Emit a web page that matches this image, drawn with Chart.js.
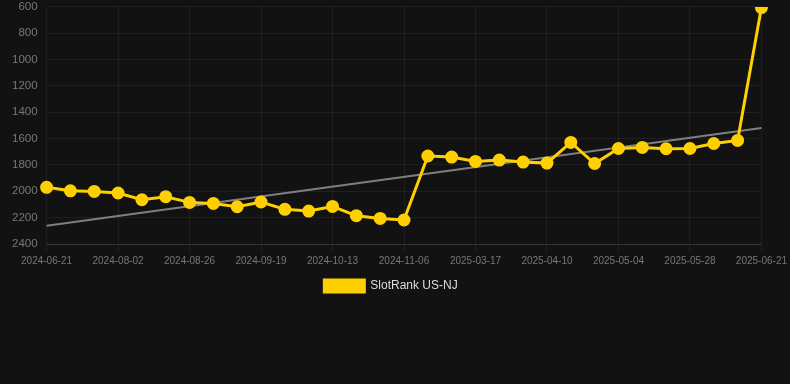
<!DOCTYPE html>
<html>
<head>
<meta charset="utf-8">
<script src="https://cdn.jsdelivr.net/npm/chart.js@4/dist/chart.umd.min.js"></script>
<style>
  html, body { margin: 0; padding: 0; background: #121212; overflow: hidden; }
  #wrap { width: 790px; height: 311px; position: relative; top: -9px; }
</style>
</head>
<body>
<div id="wrap"><canvas id="c"></canvas></div>
<script>
const categories = [
  "2024-06-21","2024-07-05","2024-07-19","2024-08-02","2024-08-10","2024-08-18",
  "2024-08-26","2024-09-03","2024-09-11","2024-09-19","2024-09-27","2024-10-05",
  "2024-10-13","2024-10-21","2024-10-29","2024-11-06","2025-03-01","2025-03-09",
  "2025-03-17","2025-03-25","2025-04-02","2025-04-10","2025-04-18","2025-04-26",
  "2025-05-04","2025-05-12","2025-05-20","2025-05-28","2025-06-05","2025-06-13",
  "2025-06-21"
];
const rankValues = [
  1970, 1996, 2001, 2013, 2064, 2041, 2084, 2092, 2117, 2081,
  2137, 2150, 2115, 2185, 2206, 2218, 1732, 1740, 1773, 1763,
  1778, 1786, 1629, 1789, 1675, 1667, 1677, 1675, 1637, 1614,
  605
];
const trendStart = 2261;
const trendEnd = 1520;
const trendValues = categories.map((_, i) => i === 0 ? trendStart : (i === categories.length - 1 ? trendEnd : null));
const yTicks = { min: 600, max: 2400, step: 200 };
const labelEvery = 3;

new Chart(document.getElementById('c'), {
  type: 'line',
  data: {
    labels: categories,
    datasets: [
      {
        label: 'SlotRank US-NJ',
        data: rankValues,
        borderColor: '#FFD000',
        backgroundColor: '#FFD000',
        borderWidth: 3,
        pointRadius: 5,
        pointHoverRadius: 5,
        pointBackgroundColor: '#FFD000',
        pointBorderColor: '#FFD000',
        tension: 0,
        order: 1
      },
      {
        label: 'trend',
        data: trendValues,
        borderColor: 'rgba(140,140,140,0.9)',
        borderWidth: 2,
        pointRadius: 0,
        spanGaps: true,
        fill: false,
        order: 2
      }
    ]
  },
  options: {
    responsive: true,
    maintainAspectRatio: false,
    animation: false,
    layout: { padding: { top: 0, right: 11, left: 3, bottom: 0 } },
    plugins: {
      legend: {
        position: 'bottom',
        labels: {
          color: '#dddddd',
          font: { family: 'Liberation Sans, Arial, sans-serif', size: 12 },
          boxWidth: 40,
          boxHeight: 12,
          filter: (item) => item.text !== 'trend'
        }
      },
      tooltip: { enabled: false }
    },
    scales: {
      x: {
        grid: { color: 'rgba(255,255,255,0.06)', drawTicks: true, tickLength: 8 },
        border: { color: 'rgba(255,255,255,0.1)' },
        ticks: {
          color: '#777777',
          font: { family: 'Liberation Sans, Arial, sans-serif', size: 10 },
          autoSkip: false,
          maxRotation: 0,
          callback: function(val, idx) { return idx % labelEvery === 0 ? this.getLabelForValue(val) : null; }
        }
      },
      y: {
        reverse: true,
        min: yTicks.min,
        max: yTicks.max,
        grid: { color: 'rgba(255,255,255,0.06)', drawTicks: false },
        border: { display: false },
        ticks: {
          stepSize: yTicks.step,
          color: '#777777',
          padding: 9,
          font: { family: 'Liberation Sans, Arial, sans-serif', size: 11.5 },
          callback: (v) => String(v)
        }
      }
    }
  }
});
</script>
</body>
</html>
